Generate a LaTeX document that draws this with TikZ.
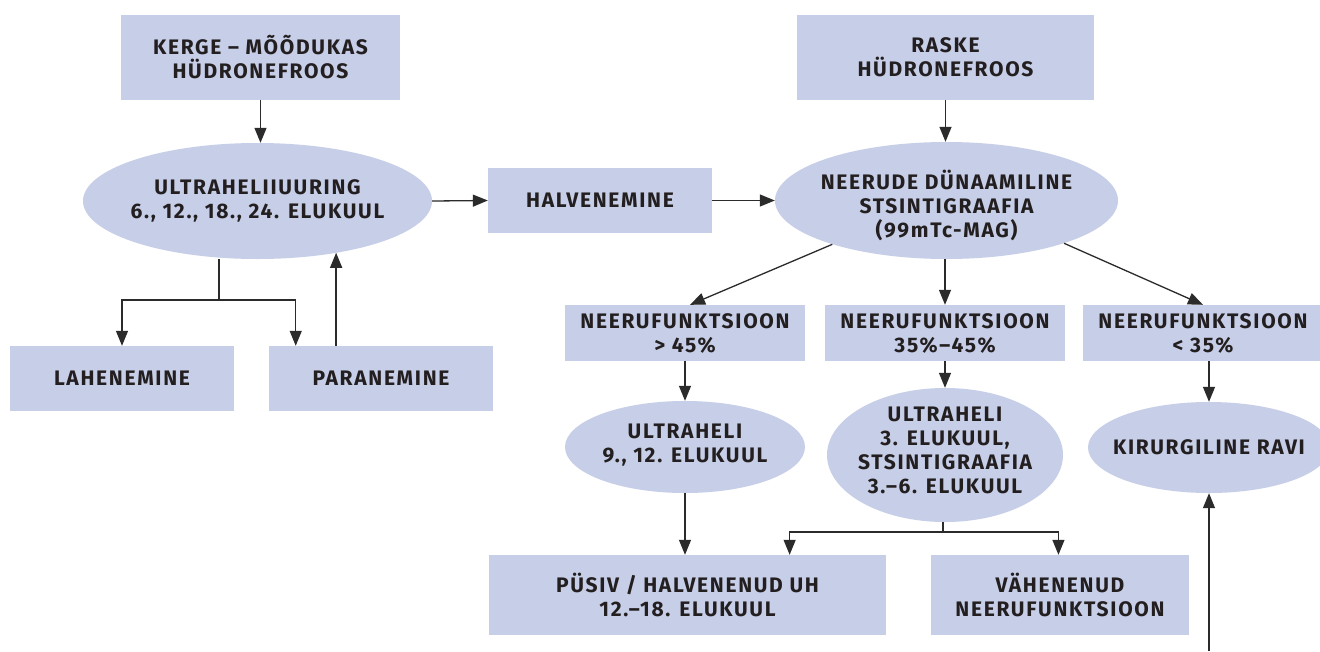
\documentclass[tikz,border=0pt]{standalone}
\usepackage{fontspec}
\setmainfont{Fira Sans}[LetterSpace=8]
\usetikzlibrary{shapes.geometric,arrows.meta,calc}
\definecolor{boxfill}{HTML}{C7CEE7}
\definecolor{ink}{HTML}{231F20}
\definecolor{wire}{HTML}{2B2B2B}
\begin{document}
\begin{tikzpicture}[x=1pt,y=-1pt,
  txt/.style={font=\fontsize{21}{24}\selectfont\bfseries, text=ink, align=center, inner sep=0pt},
  rbox/.style={txt, fill=boxfill, rectangle, draw=none},
  ebox/.style 2 args={fill=boxfill, ellipse, draw=none, inner sep=0pt, label={[txt,yshift=#2]center:#1}},
  wline/.style={draw=wire, line width=1.3pt},
  arr/.style={wline, -{Triangle[length=15pt,width=12pt]}}
]
\clip (0,0) rectangle (1320,651);
\fill[white] (0,0) rectangle (1320,651);
\coordinate (bot) at (0,651);

\node[rbox, minimum width=279pt, minimum height=85pt] (kerge) at (260.5,57.5) {KERGE -- MÕÕDUKAS\\HÜDRONEFROOS};
\node[ebox={ULTRAHELIIUURING\\6., 12., 18., 24. ELUKUUL}{0pt}, minimum width=349pt, minimum height=116pt] (us1) at (257.5,201) {};
\node[rbox, minimum width=224pt, minimum height=65pt] (lah) at (122,378.5) {LAHENEMINE};
\node[rbox, minimum width=224pt, minimum height=65pt] (par) at (381,378.5) {PARANEMINE};
\node[rbox, minimum width=224pt, minimum height=65pt] (halv) at (600,200.5) {HALVENEMINE};
\node[rbox, minimum width=297pt, minimum height=85pt] (raske) at (945.5,57.5) {RASKE\\HÜDRONEFROOS};
\node[ebox={NEERUDE DÜNAAMILINE\\STSINTIGRAAFIA\\(99mTc-MAG)}{-5pt}, minimum width=343pt, minimum height=117pt] (nds) at (946.5,200.5) {};
\node[rbox, minimum width=240pt, minimum height=56pt] (nfA) at (685,333) {NEERUFUNKTSIOON\\> 45\%};
\node[rbox, minimum width=240pt, minimum height=56pt] (nfB) at (945,333) {NEERUFUNKTSIOON\\35\%--45\%};
\node[rbox, minimum width=240pt, minimum height=56pt] (nfC) at (1203,333) {NEERUFUNKTSIOON\\< 35\%};
\node[ebox={ULTRAHELI\\9., 12. ELUKUUL}{2pt}, minimum width=240pt, minimum height=92pt] (usA) at (685,447) {};
\node[ebox={ULTRAHELI\\3. ELUKUUL,\\STSINTIGRAAFIA\\3.--6. ELUKUUL}{5pt}, minimum width=236pt, minimum height=134pt] (usB) at (945,455) {};
\node[ebox={KIRURGILINE RAVI}{0pt}, minimum width=242pt, minimum height=91pt] (kir) at (1209,447.5) {};
\node[rbox, minimum width=397pt, minimum height=80pt] (pus) at (687.5,595) {PÜSIV / HALVENENUD UH\\12.--18. ELUKUUL};
\node[rbox, minimum width=258pt, minimum height=80pt] (vah) at (1060,595) {VÄHENENUD\\NEERUFUNKTSIOON};

% left part
\draw[arr] (kerge.south) -- (kerge.south |- us1.north);
\coordinate (s1) at (219,300);
\draw[wline] (us1.south -| s1) -- (s1);
\draw[arr] (s1) -| (lah.north);
\draw[arr] (s1) -| ($(par.north west)!0.12!(par.north east)$);
\coordinate (p1) at ($(par.north west)!0.3!(par.north east)$);
\draw[arr] (p1) -- (p1 |- us1.-33.4);
\draw[arr] (us1.east) -- (halv.west);
\draw[arr] (halv.east) -- (nds.west);
% right part
\draw[arr] (raske.south) -- (raske.south |- nds.north);
\draw[arr] (nds.-159) -- ($(nfA.north)+(5,0)$);
\draw[arr] (nfB.north |- nds.south) -- (nfB.north);
\draw[arr] (nds.-20.8) -- (nfC.north);
\draw[arr] (usA.north |- nfA.south) -- (usA.north);
\draw[arr] (nfB.south) -- (nfB.south |- usB.north);
\draw[arr] (kir.north |- nfC.south) -- (kir.north);
\draw[arr] (usA.south) -- (usA.south |- pus.north);
\coordinate (s2) at (943,532);
\draw[wline] (s2 |- usB.south) -- (s2);
\draw[arr] (s2) -| ($(pus.north west)!0.757!(pus.north east)$);
\draw[arr] (s2) -| ($(vah.north west)!0.494!(vah.north east)$);
\draw[wline] ($(pus.south)+(-2,0)$) -- ($(pus.south)+(-2,0)$ |- bot);
\draw[arr] (kir.south |- bot) -- (kir.south);
\end{tikzpicture}
\end{document}
